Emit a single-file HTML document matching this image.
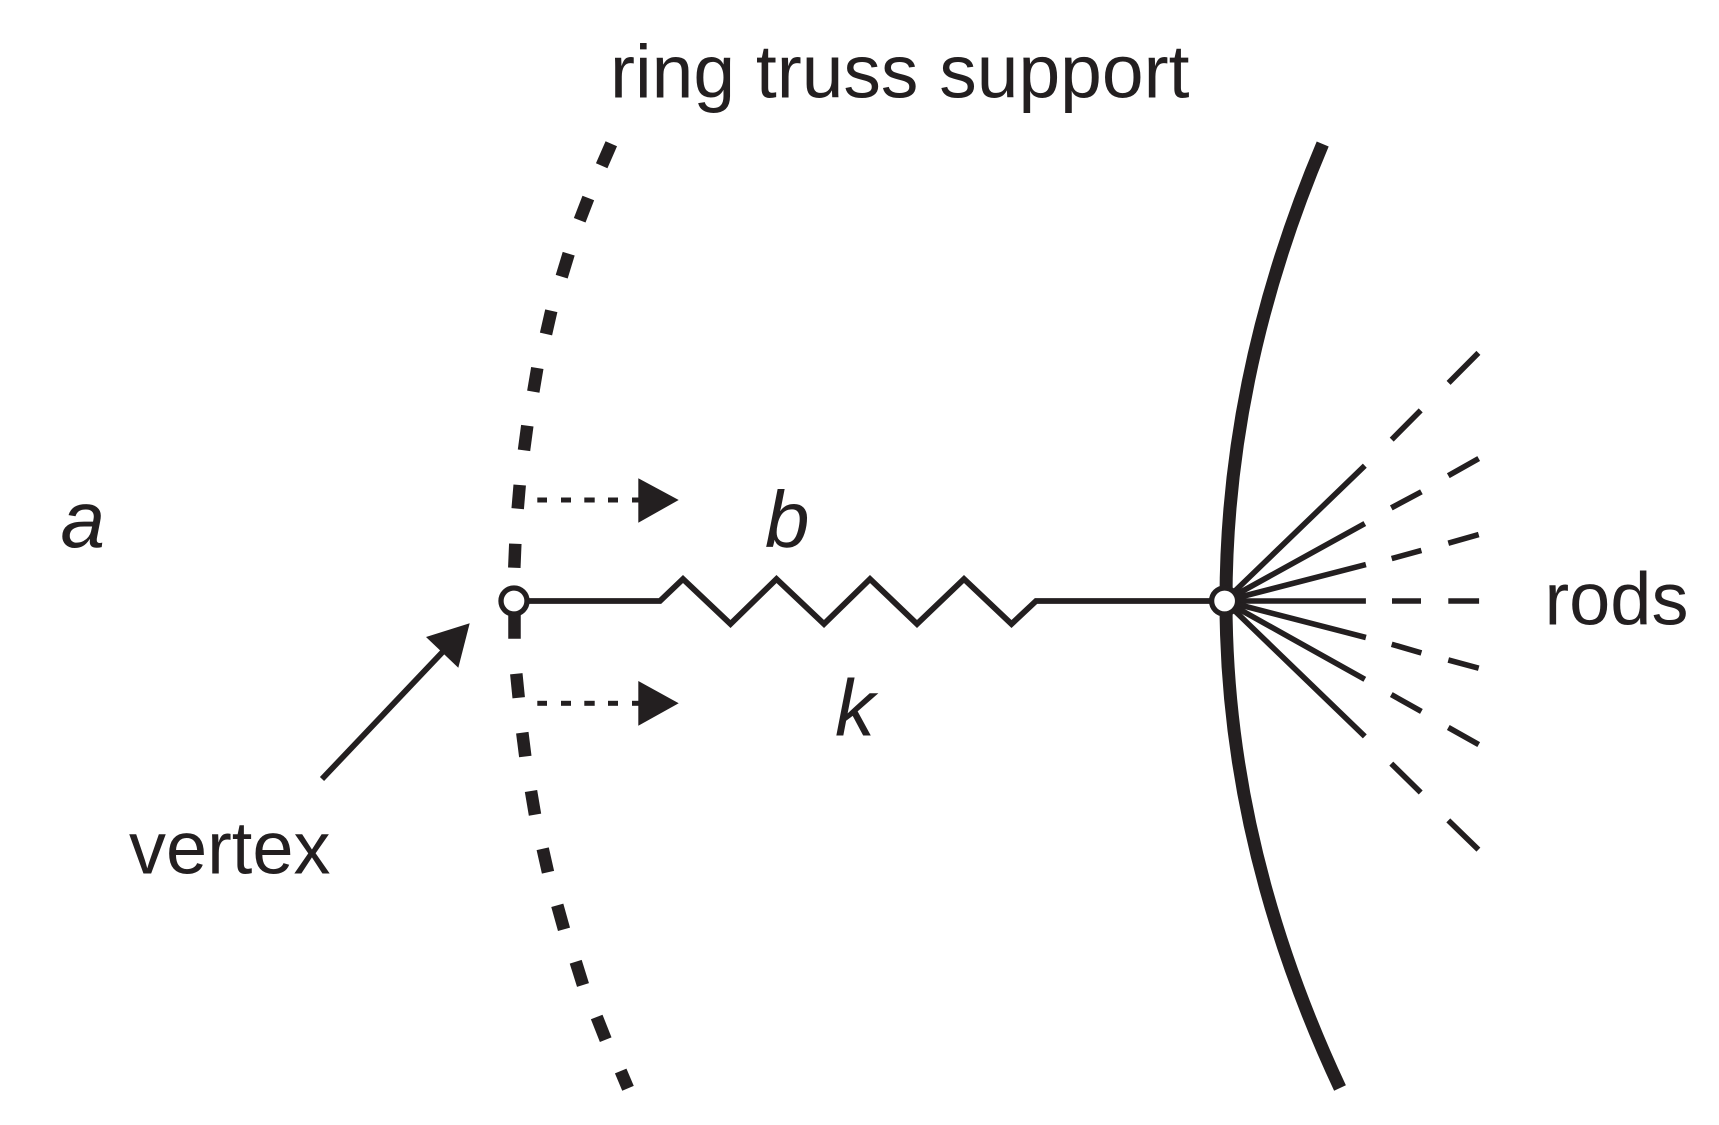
<!DOCTYPE html>
<html>
<head>
<meta charset="utf-8">
<title>Ring truss support diagram</title>
<style>
html,body{margin:0;padding:0;background:#fff;width:1719px;height:1125px;overflow:hidden}
svg{display:block}
text{font-family:"Liberation Sans",Arial,sans-serif;font-size:74px;fill:#231f20}
.i{font-style:italic;font-size:80px}
</style>
</head>
<body>
<svg width="1719" height="1125" viewBox="0 0 1719 1125" xmlns="http://www.w3.org/2000/svg">
<rect width="1719" height="1125" fill="#fff"/>

<!-- dashed ring truss curve -->
<g stroke="#231f20" stroke-width="12.5" fill="none">
<path d="M611.3 143.7L601.7 165.7"/>
<path d="M588.3 198L579.7 220.3"/>
<path d="M568.7 253.7L561.7 276.7"/>
<path d="M551.3 310.7L546 334"/>
<path d="M537.3 368L533.3 391.7"/>
<path d="M527.3 425.7L524 450.3"/>
<path d="M519.7 485L517.7 508.7"/>
<path d="M515.3 543.7L514.3 567.7"/>
<path d="M514.5 610L514.5 638.7"/>
<path d="M516.3 673.7L518.7 697.7"/>
<path d="M522.3 732.7L525.3 756.5"/>
<path d="M531 791L535 814.7"/>
<path d="M542.7 848.7L548 872.3"/>
<path d="M557.3 905.3L564 929.3"/>
<path d="M575.7 961.7L583 985"/>
<path d="M596.7 1017L605.7 1039.7"/>
<path d="M620.7 1071L628 1088.3"/>
</g>

<!-- heavy mirror curve -->
<path d="M1322.7 144Q1226 372.5 1226 601Q1226 844.5 1340 1088" stroke="#231f20" stroke-width="13" fill="none"/>

<!-- dotted arrows -->
<g fill="#231f20">
<rect x="537.3" y="497.5" width="9.7" height="5"/>
<rect x="561" y="497.5" width="10" height="5"/>
<rect x="584.3" y="497.5" width="10.4" height="5"/>
<rect x="608" y="497.5" width="10" height="5"/>
<rect x="632" y="497.5" width="7" height="5"/>
<polygon points="638.3,478.3 638.3,522.7 678.7,500"/>
<rect x="537.3" y="700.8" width="9.7" height="5"/>
<rect x="561" y="700.8" width="10" height="5"/>
<rect x="584.3" y="700.8" width="10.4" height="5"/>
<rect x="608" y="700.8" width="10" height="5"/>
<rect x="632" y="700.8" width="7" height="5"/>
<polygon points="638.3,681 638.3,725.7 678.7,703.3"/>
</g>

<!-- spring -->
<polyline points="514,601 660,601 683,579 730.5,624 776.5,579 824,624 870,579 917,624 964,579 1011.5,624 1036,601 1224.6,601" fill="none" stroke="#231f20" stroke-width="5.8"/>

<!-- vertex arrow -->
<path d="M322 779L444 650.5" stroke="#231f20" stroke-width="5.8" fill="none"/>
<polygon points="469.7,623.3 426,637 458.3,667.7" fill="#231f20"/>

<!-- rods -->
<g stroke="#231f20" stroke-width="5.6" fill="none">
<path d="M1224.6 601L1364.8 465.7M1391.7 439.6L1420.7 410.4M1448.6 382.9L1478.4 352.9"/>
<path d="M1224.6 601L1364.8 523.6M1391.3 507.9L1421.4 491.8M1448.3 475.7L1478.7 458.6"/>
<path d="M1224.6 601L1365.9 564.6M1391.7 558.6L1421.4 550.4M1448.3 543.2L1478.7 534.6"/>
<path d="M1224.6 601L1365.9 601M1392 601L1421 601M1448.3 601L1479.1 601"/>
<path d="M1224.6 601L1365.9 637.5M1391.7 644.3L1421.4 652.9M1448.3 660L1478.7 668.2"/>
<path d="M1224.6 601L1364.8 679.3M1391.3 694.6L1421.4 711.4M1448.3 727.5L1478.7 744.6"/>
<path d="M1224.6 601L1364.8 736.4M1391.3 763.6L1420.7 792.5M1448.3 820.4L1478.4 849.6"/>
</g>

<!-- joints -->
<circle cx="514" cy="601" r="13" fill="#fff" stroke="#231f20" stroke-width="5.3"/>
<circle cx="1224.6" cy="601" r="13" fill="#fff" stroke="#231f20" stroke-width="5.3"/>

<!-- labels -->
<text x="610" y="97.7" style="font-size:75px">ring truss support</text>
<text x="1544.5" y="624.6">rods</text>
<text x="129" y="873.5">vertex</text>
<text class="i" x="60.5" y="547">a</text>
<text class="i" x="765" y="547">b</text>
<text class="i" x="835" y="735.7">k</text>
</svg>
</body>
</html>
